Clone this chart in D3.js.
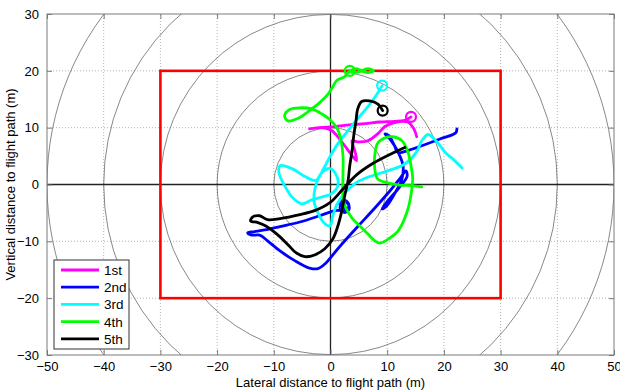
<!DOCTYPE html>
<html>
<head>
<meta charset="utf-8">
<script src="https://cdn.jsdelivr.net/npm/d3@7/dist/d3.min.js"></script>
<style>
  body { margin: 0; background: #fff; }
  text { font-family: "Liberation Sans", Arial, sans-serif; }
</style>
</head>
<body>
<div id="chart"></div>
<script>
// axis ticks and reference geometry (metres)
const xTicks = [-50, -40, -30, -20, -10, 0, 10, 20, 30, 40, 50];
const yTicks = [-30, -20, -10, 0, 10, 20, 30];
const ringRadii = [10, 20, 30, 40, 50];
const zoneX = [-30, 30];
const zoneY = [-20, 20];

const seriesNames = ['1st', '2nd', '3rd', '4th', '5th'];
const seriesColors = ['#ff00ff', '#0000ff', '#00ffff', '#00ff00', '#000000'];

// flight passes, [lateral, vertical] in metres; first point is the start marker
const pass1 = [[14.2,11.9],[13.1,11.3],[11.3,11.1],[8.7,11.0],[6.1,10.7],[3.4,10.5],[0.8,10.2],[-1.9,10.0],[-3.7,9.8],
  [-1.5,10.0],[0.2,9.5],[1.6,8.0],[2.9,6.3],[3.8,5.1],[4.6,4.2],[4.3,5.9],[3.8,7.7],[4.8,7.5],[6.6,7.7],[8.3,8.9],
  [9.6,10.2],[11.3,10.9],[13.6,11.0],[14.7,9.8],[15.2,8.4]];

const pass2 = [[2.5,-4.1],[1.6,-3.4],[2.3,-2.7],[3.2,-3.4],[2.9,-4.5],[0.8,-4.6],[-1.9,-5.5],[-5.4,-6.6],[-8.9,-7.4],
  [-11.6,-8.0],[-13.4,-8.3],[-14.6,-8.5],[-13.9,-8.9],[-12.5,-8.9],[-11.1,-9.9],[-8.9,-11.7],[-6.3,-13.4],[-3.7,-14.7],
  [-2.2,-14.8],[-1.0,-14.0],[1.3,-11.3],[3.8,-8.5],[6.1,-6.0],[8.3,-3.6],[10.5,-1.1],[12.2,1.0],[13.3,2.4],[13.5,1.4],
  [11.9,-0.8],[10.1,-2.9],[9.1,-4.3],[9.9,-3.8],[11.5,-1.3],[12.6,1.0],[12.8,3.3],[12.2,5.1],[11.3,6.8],[10.3,8.2],
  [9.6,8.9],[10.3,8.6],[11.3,6.8],[11.9,5.6],[14.0,6.1],[16.6,7.0],[19.3,8.0],[22.1,9.1],[22.3,9.8]];

const pass3 = [[9.1,17.4],[8.0,15.6],[6.6,13.7],[4.8,11.6],[3.1,9.5],[1.3,7.2],[-0.1,4.9],[-1.2,2.8],[-2.6,0.7],
  [-4.5,1.4],[-6.8,2.8],[-8.9,3.3],[-9.1,2.1],[-8.1,-0.2],[-6.7,-2.3],[-5.1,-3.4],[-3.3,-2.7],[-1.5,-2.2],[0.2,-1.6],
  [1.3,-0.2],[1.1,1.5],[-0.1,2.8],[-1.5,2.1],[-2.6,-0.2],[-2.9,-2.9],[-2.2,-5.0],[-1.2,-6.7],[-0.1,-7.3],[0.4,-5.5],
  [1.1,-3.6],[2.5,-1.5],[4.5,0.3],[6.9,1.4],[10.1,2.4],[13.1,3.6],[15.1,5.6],[16.1,7.7],[17.2,8.8],[18.6,7.7],
  [20.3,5.6],[21.9,4.2],[23.2,2.9]];

const pass4 = [[3.4,20.0],[4.5,19.7],[5.5,20.0],[6.6,20.4],[7.6,20.0],[6.6,19.7],[5.5,20.0],[4.5,20.4],[3.4,20.0],
  [2.5,19.0],[1.1,18.3],[0.4,17.2],[-0.5,15.8],[-1.9,14.4],[-3.7,13.0],[-5.8,11.6],[-7.5,11.2],[-8.1,12.1],[-7.2,13.2],
  [-5.4,13.5],[-3.3,13.3],[-1.5,12.4],[-0.1,11.4],[1.1,10.0],[1.8,8.0],[2.2,5.1],[2.2,1.5],[2.2,-2.0],[2.7,-4.1],
  [3.8,-5.9],[5.2,-7.3],[6.6,-8.7],[7.8,-9.9],[8.7,-10.3],[10.5,-9.4],[11.9,-8.2],[12.9,-6.4],[13.8,-3.8],[14.3,-1.1],
  [14.5,1.0],[14.2,3.3],[13.6,5.9],[12.6,7.7],[11.0,8.4],[9.6,8.2],[8.3,7.2],[7.8,5.1],[7.8,2.8],[8.3,1.0],
  [10.1,0.3],[12.2,-0.1],[14.3,-0.2],[16.1,-0.4]];

const pass5 = [[9.2,13.0],[8.3,14.2],[6.9,14.7],[5.5,14.6],[4.8,13.3],[4.5,11.2],[4.1,8.6],[3.8,5.9],[3.4,3.3],
  [3.1,0.7],[2.5,-2.0],[2.0,-4.6],[1.3,-7.3],[0.4,-9.6],[-1.0,-11.3],[-2.8,-12.4],[-4.5,-12.7],[-6.1,-12.0],
  [-7.5,-10.6],[-9.5,-8.7],[-11.4,-7.3],[-12.8,-6.7],[-14.1,-6.4],[-13.7,-5.7],[-12.5,-5.5],[-11.1,-6.2],[-8.9,-6.0],
  [-5.4,-5.3],[-2.8,-4.6],[-0.1,-3.2],[2.2,-0.8],[4.6,1.7],[7.3,3.6],[10.1,5.1],[13.1,6.5]];

const passes = [pass1, pass2, pass3, pass4, pass5];

const width = 620, height = 390;
const margin = { top: 14, right: 6, bottom: 35, left: 47 };

const svg = d3.select('#chart').append('svg')
    .attr('width', width)
    .attr('height', height);

const x = d3.scaleLinear().domain([-50, 50]).range([margin.left, width - margin.right]);
const y = d3.scaleLinear().domain([-30, 30]).range([height - margin.bottom, margin.top]);

svg.append('defs').append('clipPath').attr('id', 'plot-clip')
    .append('rect')
    .attr('x', x(-50)).attr('y', y(30))
    .attr('width', x(50) - x(-50)).attr('height', y(-30) - y(30));

const plot = svg.append('g').attr('clip-path', 'url(#plot-clip)');

// dotted grid
plot.selectAll('.grid-x')
    .data(xTicks.slice(1, -1))
    .enter().append('line')
    .attr('x1', d => x(d)).attr('x2', d => x(d))
    .attr('y1', y(-30)).attr('y2', y(30))
    .attr('stroke', '#b4b4b4').attr('stroke-width', 1).attr('stroke-dasharray', '1,2');

plot.selectAll('.grid-y')
    .data(yTicks.slice(1, -1))
    .enter().append('line')
    .attr('y1', d => y(d)).attr('y2', d => y(d))
    .attr('x1', x(-50)).attr('x2', x(50))
    .attr('stroke', '#b4b4b4').attr('stroke-width', 1).attr('stroke-dasharray', '1,2');

// range rings
plot.selectAll('.ring')
    .data(ringRadii)
    .enter().append('circle')
    .attr('cx', x(0)).attr('cy', y(0))
    .attr('r', d => x(d) - x(0))
    .attr('fill', 'none').attr('stroke', '#555').attr('stroke-width', 0.7);

// centre axes
plot.append('line')
    .attr('x1', x(-50)).attr('x2', x(50)).attr('y1', y(0)).attr('y2', y(0))
    .attr('stroke', '#222').attr('stroke-width', 1.3);
plot.append('line')
    .attr('x1', x(0)).attr('x2', x(0)).attr('y1', y(-30)).attr('y2', y(30))
    .attr('stroke', '#222').attr('stroke-width', 1.3);

// target zone
plot.append('rect')
    .attr('x', x(zoneX[0])).attr('y', y(zoneY[1]))
    .attr('width', x(zoneX[1]) - x(zoneX[0]))
    .attr('height', y(zoneY[0]) - y(zoneY[1]))
    .attr('fill', 'none').attr('stroke', '#ff0000').attr('stroke-width', 2.6);

// passes
const line = d3.line()
    .x(d => x(d[0]))
    .y(d => y(d[1]))
    .curve(d3.curveCatmullRom.alpha(0.5));

passes.forEach((pts, i) => {
    plot.append('path')
        .datum(pts)
        .attr('d', line)
        .attr('fill', 'none')
        .attr('stroke', seriesColors[i])
        .attr('stroke-width', 2.8)
        .attr('stroke-linejoin', 'round')
        .attr('stroke-linecap', 'round');
    plot.append('circle')
        .attr('cx', x(pts[0][0])).attr('cy', y(pts[0][1]))
        .attr('r', 5)
        .attr('fill', 'none')
        .attr('stroke', seriesColors[i])
        .attr('stroke-width', 2.2);
});

// frame and ticks
const frame = svg.append('g');
frame.append('rect')
    .attr('x', x(-50)).attr('y', y(30))
    .attr('width', x(50) - x(-50)).attr('height', y(-30) - y(30))
    .attr('fill', 'none').attr('stroke', '#7a7a7a').attr('stroke-width', 1);

const xAxisBottom = d3.axisBottom(x).tickValues(xTicks).tickSizeInner(-5).tickSizeOuter(0).tickPadding(7);
const xAxisTop = d3.axisTop(x).tickValues(xTicks).tickSizeInner(-5).tickSizeOuter(0).tickFormat('');
const yAxisLeft = d3.axisLeft(y).tickValues(yTicks).tickSizeInner(-5).tickSizeOuter(0).tickPadding(8);
const yAxisRight = d3.axisRight(y).tickValues(yTicks).tickSizeInner(-5).tickSizeOuter(0).tickFormat('');

function styleAxis(g) {
    g.select('.domain').remove();
    g.selectAll('.tick line').attr('stroke', '#7a7a7a');
    g.selectAll('.tick text').attr('fill', '#000').style('font-size', '13px')
        .style('font-family', '"Liberation Sans", Arial, sans-serif');
}

frame.append('g').attr('transform', `translate(0,${y(-30)})`).call(xAxisBottom).call(styleAxis);
frame.append('g').attr('transform', `translate(0,${y(30)})`).call(xAxisTop).call(styleAxis);
frame.append('g').attr('transform', `translate(${x(-50)},0)`).call(yAxisLeft).call(styleAxis);
frame.append('g').attr('transform', `translate(${x(50)},0)`).call(yAxisRight).call(styleAxis);

// axis titles
svg.append('text')
    .attr('x', x(0)).attr('y', 387)
    .attr('text-anchor', 'middle')
    .style('font-size', '13px')
    .text('Lateral distance to flight path (m)');

svg.append('text')
    .attr('transform', `translate(15,${y(0)}) rotate(-90)`)
    .attr('text-anchor', 'middle')
    .style('font-size', '13px')
    .text('Vertical distance to flight path (m)');

// legend
const legend = svg.append('g').attr('transform', 'translate(54,260)');
legend.append('rect')
    .attr('width', 75).attr('height', 89)
    .attr('fill', '#fff').attr('stroke', '#333').attr('stroke-width', 1);

seriesNames.forEach((name, i) => {
    const row = legend.append('g').attr('transform', `translate(0,${10 + i * 17.2})`);
    row.append('line')
        .attr('x1', 7).attr('x2', 45).attr('y1', 0).attr('y2', 0)
        .attr('stroke', seriesColors[i]).attr('stroke-width', 2.8);
    row.append('text')
        .attr('x', 50).attr('y', 5)
        .style('font-size', '13.5px')
        .text(name);
});
</script>
</body>
</html>
